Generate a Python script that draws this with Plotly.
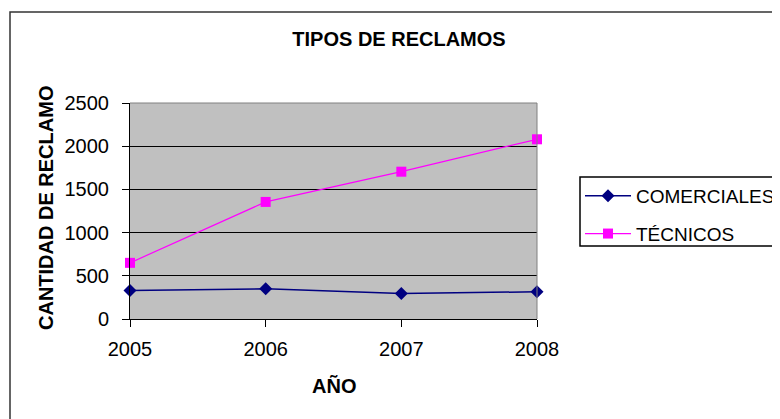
import plotly.graph_objects as go

# Data
years = [2005, 2006, 2007, 2008]
comerciales = [330, 350, 295, 315]
tecnicos = [650, 1355, 1705, 2080]
y_ticks = [0, 500, 1000, 1500, 2000, 2500]

font_family = 'Liberation Sans, Arial, sans-serif'

# the page puts the figure 8px in from the top left corner
W, H = 772, 411

fig = go.Figure()

fig.add_trace(go.Scatter(
    x=years,
    y=comerciales,
    name='COMERCIALES',
    mode='lines+markers',
    line=dict(color='#000080', width=1.5),
    marker=dict(symbol='diamond', size=10, color='#000080'),
    cliponaxis=False,
    legendgroup='a',
))

fig.add_trace(go.Scatter(
    x=years,
    y=tecnicos,
    name='TÉCNICOS',
    mode='lines+markers',
    line=dict(color='#FF00FF', width=1.2),
    marker=dict(symbol='square', size=10, color='#FF00FF'),
    cliponaxis=False,
    legendgroup='b',
))

fig.update_layout(
    width=W,
    height=H,
    margin=dict(l=122, r=243, t=95, b=100, autoexpand=False),
    plot_bgcolor='#C0C0C0',
    paper_bgcolor='white',
    font=dict(family=font_family, size=20, color='black'),
    title=dict(
        text='<b>TIPOS DE RECLAMOS</b>',
        x=391 / W, xref='container', xanchor='center',
        y=1 - 31 / H, yanchor='middle',
        font=dict(size=20),
    ),
    legend=dict(
        x=(580 - 130) / 407, xanchor='left',
        y=(319 - 177) / 216, yanchor='top',
        borderwidth=0,
        bgcolor='rgba(0,0,0,0)',
        font=dict(size=19),
        itemwidth=46,
        traceorder='grouped',
        tracegroupgap=10,
    ),
)

fig.update_xaxes(
    range=[2005, 2008],
    tickvals=years,
    ticktext=[str(y) for y in years],
    showgrid=False,
    zeroline=False,
    showline=True, linecolor='black', linewidth=1,
    ticks='outside', ticklen=7, tickcolor='black',
    ticklabelstandoff=5,
)

fig.update_yaxes(
    range=[0, 2500],
    tickvals=y_ticks,
    showgrid=True, gridcolor='black', gridwidth=1,
    zeroline=False,
    showline=True, linecolor='black', linewidth=1,
    ticks='outside', ticklen=7, tickcolor='black',
    ticklabelstandoff=9,
)

# axis titles
fig.add_annotation(text='<b>AÑO</b>', xref='paper', yref='paper',
                   x=0.5, y=(319 - 386) / 216, showarrow=False,
                   xanchor='center', yanchor='middle', font=dict(size=20))
fig.add_annotation(text='<b>CANTIDAD DE RECLAMO</b>', xref='paper', yref='paper',
                   x=(46 - 130) / 407, y=(319 - 208) / 216, textangle=-90,
                   showarrow=False, xanchor='center', yanchor='middle',
                   font=dict(size=20))

# gray border on top and right of the plot area
fig.add_shape(type='line', xref='paper', yref='paper', x0=0, x1=1, y0=1, y1=1,
              line=dict(color='#808080', width=1))
fig.add_shape(type='line', xref='paper', yref='paper', x0=1, x1=1, y0=0, y1=1,
              line=dict(color='#808080', width=1))

# legend box, cut off by the right edge like the original
fig.add_shape(type='rect', xref='paper', yref='paper',
              x0=(580 - 130) / 407, x1=(800 - 130) / 407,
              y0=(319 - 246) / 216, y1=(319 - 177) / 216,
              line=dict(color='black', width=1.5))

# outer chart frame (runs off the right and bottom edges)
fig.add_shape(type='rect', xref='paper', yref='paper',
              x0=(10 - 130) / 407, x1=(800 - 130) / 407,
              y0=(319 - 440) / 216, y1=(319 - 12) / 216,
              line=dict(color='#333333', width=1.5))

fig.write_html('out.html')
